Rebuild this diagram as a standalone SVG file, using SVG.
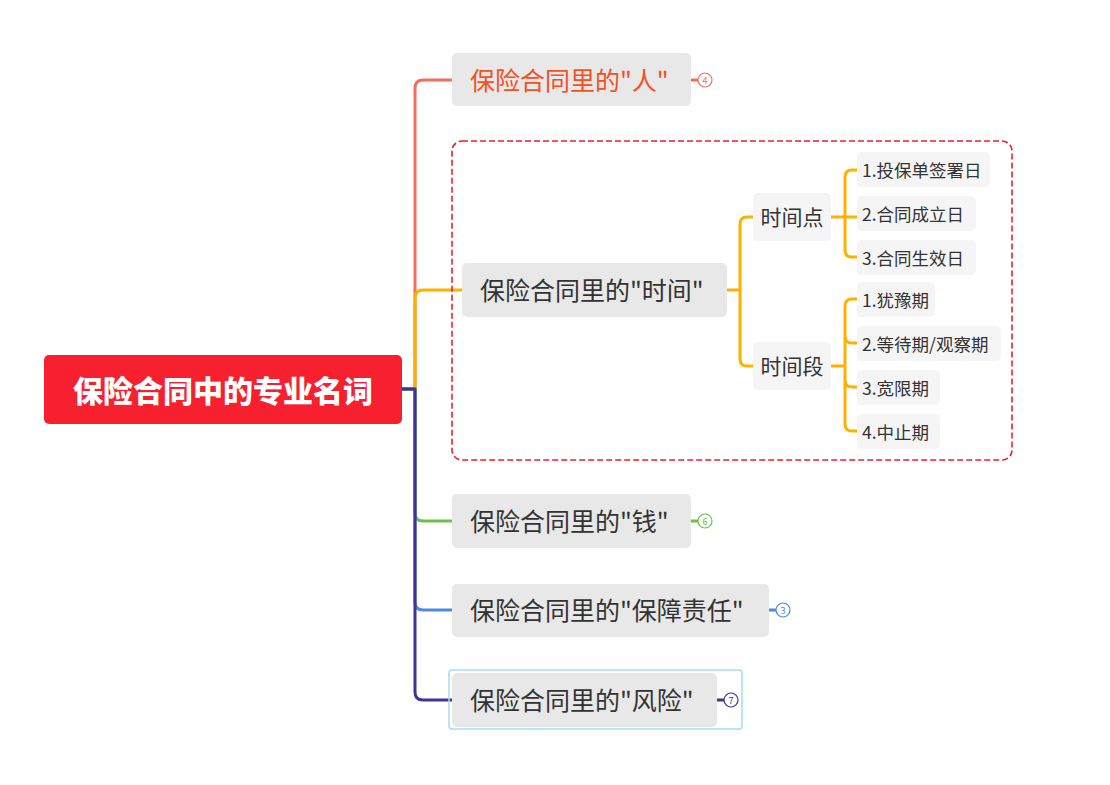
<svg xmlns="http://www.w3.org/2000/svg" width="1110" height="785" viewBox="0 0 1110 785">
<style>
text{font-family:"Noto Sans CJK SC","Noto Sans",sans-serif;dominant-baseline:central}
.b{fill:#e8e8e8}
.s{fill:#f5f5f5}
.bt{font-size:25px;fill:#333}
.st{font-size:21px;fill:#333}
.lt{font-size:17.5px;fill:#333}
.c{fill:none;stroke-width:3;stroke-linecap:round;stroke-linejoin:round}
.bd{fill:#fff;stroke-width:1.2}
.bn{font-size:9px;text-anchor:middle}
</style>
<rect width="1110" height="785" fill="#fff"/>
<g id="connectors">
<path class="c" stroke="#f46e5b" d="M402,389 H415 V88 Q415,80 423,80 H452"/>
<path class="c" stroke="#ffb000" d="M402,389 H415 V298 Q415,290 423,290 H462"/>
<path class="c" stroke="#6cc04a" d="M402,389 H415 V513 Q415,521 423,521 H452"/>
<path class="c" stroke="#4c8bdc" d="M402,389 H415 V602 Q415,610 423,610 H452"/>
<path class="c" stroke="#3f3394" d="M402,389 H415 V692 Q415,700 423,700 H452"/>
<path class="c" stroke="#ffb000" d="M727,290 H740 M740,290 V224 Q740,217 747,217 H753 M740,290 V359 Q740,366 747,366 H753"/>
<path class="c" stroke="#ffb000" d="M831,217 H857 M845,217 V177 Q845,170 852,170 H857 M845,217 V250 Q845,257 852,257 H857"/>
<path class="c" stroke="#ffb000" d="M831,366 H845 M845,366 V306 Q845,299 852,299 H857 M845,366 V336 Q845,343 852,343 H857 M845,366 V380 Q845,387 852,387 H857 M845,366 V424 Q845,431 852,431 H857"/>
<path class="c" stroke="#f46e5b" stroke-width="2" d="M691,80 H698"/>
<path class="c" stroke="#6cc04a" stroke-width="2" d="M691,521 H698"/>
<path class="c" stroke="#4c8bdc" stroke-width="2" d="M769,610 H776"/>
<path class="c" stroke="#3f3394" stroke-width="2" d="M717,700 H724"/>
</g>
<g id="root">
<rect x="44" y="355" width="358" height="69" rx="5" fill="#f7202f"/>
<text x="223" y="389" font-size="30" font-weight="900" fill="#fff" text-anchor="middle">保险合同中的专业名词</text>
</g>
<g id="n-ren">
<rect class="b" x="452" y="53" width="239" height="53" rx="5"/>
<text class="bt" x="470" y="79" style="fill:#f5501e">保险合同里的"人"</text>
<circle class="bd" cx="705" cy="80" r="7" stroke="#f46e5b"/>
<text class="bn" x="705" y="80" fill="#f46e5b">4</text>
</g>
<g id="n-time">
<rect x="452" y="141" width="560" height="319" rx="10" fill="none" stroke="#f01e2c" stroke-width="1.6" stroke-dasharray="6,3"/>
<rect class="b" x="462" y="263" width="265" height="54" rx="5"/>
<text class="bt" x="480" y="289">保险合同里的"时间"</text>
</g>
<g id="n-point">
<rect class="s" x="753" y="193" width="78" height="48" rx="5"/>
<text class="st" x="792" y="216" text-anchor="middle">时间点</text>
</g>
<g id="n-period">
<rect class="s" x="753" y="342" width="78" height="48" rx="5"/>
<text class="st" x="792" y="365" text-anchor="middle">时间段</text>
</g>
<g id="l1"><rect class="s" x="857" y="152" width="133" height="35" rx="5"/><text class="lt" x="862" y="169">1.投保单签署日</text></g>
<g id="l2"><rect class="s" x="857" y="196" width="119" height="35" rx="5"/><text class="lt" x="862" y="213">2.合同成立日</text></g>
<g id="l3"><rect class="s" x="857" y="240" width="119" height="35" rx="5"/><text class="lt" x="862" y="257">3.合同生效日</text></g>
<g id="l4"><rect class="s" x="857" y="282" width="78" height="35" rx="5"/><text class="lt" x="862" y="299">1.犹豫期</text></g>
<g id="l5"><rect class="s" x="857" y="326" width="144" height="35" rx="5"/><text class="lt" x="862" y="343">2.等待期/观察期</text></g>
<g id="l6"><rect class="s" x="857" y="370" width="83" height="35" rx="5"/><text class="lt" x="862" y="387">3.宽限期</text></g>
<g id="l7"><rect class="s" x="857" y="414" width="83" height="35" rx="5"/><text class="lt" x="862" y="431">4.中止期</text></g>
<g id="n-money">
<rect class="b" x="452" y="494" width="239" height="54" rx="5"/>
<text class="bt" x="470" y="520">保险合同里的"钱"</text>
<circle class="bd" cx="705" cy="521" r="7" stroke="#6cc04a"/>
<text class="bn" x="705" y="521" fill="#6cc04a">6</text>
</g>
<g id="n-duty">
<rect class="b" x="452" y="584" width="317" height="53" rx="5"/>
<text class="bt" x="470" y="609">保险合同里的"保障责任"</text>
<circle class="bd" cx="783" cy="610" r="7" stroke="#4c8bdc"/>
<text class="bn" x="783" y="610" fill="#4c8bdc">3</text>
</g>
<g id="n-risk">
<rect x="449" y="670" width="293" height="59" rx="3" fill="none" stroke="#a6dcf5" stroke-width="1.5"/>
<rect class="b" x="452" y="673" width="265" height="54" rx="5"/>
<text class="bt" x="470" y="699">保险合同里的"风险"</text>
<circle class="bd" cx="731" cy="700" r="7" stroke="#3f3394"/>
<text class="bn" x="731" y="700" fill="#3f3394">7</text>
</g>
</svg>
